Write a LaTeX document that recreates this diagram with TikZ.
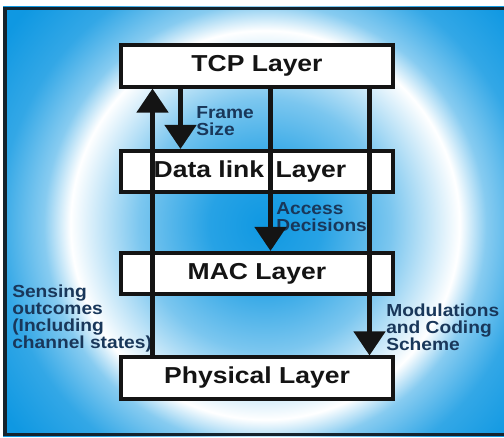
\documentclass[tikz,border=0pt]{standalone}
\usepackage{fontspec}
\newfontfamily\layerfont{Liberation Sans}[FakeStretch=1.15]
\newfontfamily\notefont{Liberation Sans}[FakeStretch=1.1]
\usetikzlibrary{arrows.meta,positioning}

\definecolor{skyblue}{RGB}{15,152,226}
\definecolor{labelnavy}{RGB}{25,55,90}
\definecolor{framedark}{RGB}{20,35,45}
\definecolor{inkdark}{RGB}{20,20,20}

\pgfdeclareradialshading{halo}{\pgfpoint{0bp}{0bp}}{color(0bp)=(skyblue); color(4bp)=(skyblue!90!white); color(9bp)=(skyblue!55!white); color(13.9bp)=(white); color(15.8bp)=(skyblue!50!white); color(19bp)=(skyblue!85!white); color(23bp)=(skyblue); color(50bp)=(skyblue)}

\tikzset{
  layer/.style={draw=inkdark, line width=2.8pt, fill=white, minimum width=6.8cm, minimum height=1.03cm, inner sep=0pt, text=inkdark, font=\layerfont\bfseries\fontsize{16.4}{19}\selectfont},
  flow/.style={draw=inkdark, line width=3pt, -{Triangle[width=0.78cm,length=0.6cm]}},
  note/.style={anchor=north west, inner sep=0pt, align=left, text=labelnavy, font=\notefont\bfseries\fontsize{12.4}{12}\selectfont}
}

\begin{document}
\begin{tikzpicture}[x=0.025cm, y=-0.025cm]
  \useasboundingbox (0,0) rectangle (504,438);
  \fill[white] (0,0) rectangle (504,438);
  % background glow
  \begin{scope}
    \clip (3,7) rectangle (504,436);
    \shade[shading=halo] (265,225) circle [radius=350];
  \end{scope}
  \draw[framedark, line width=2.8pt] (504,8.5) -- (5,8.5) -- (5,434.5) -- (504,434.5);

  % layers
  \node[layer] (tcp) at (257,66) {TCP Layer};
  \node[layer] (dlink) at (257,171.5) {Data link\hspace*{0.1cm} Layer\hspace*{0.35cm}};
  \node[layer] (mac) at (257,273.5) {MAC Layer};
  \node[layer] (phy) at (257,378) {Physical Layer};

  % labels
  \node[note] (fsize) at (196,106) {Frame\\Size};
  \node[note] (access) at (276,202) {Access\\Decisions};
  \node[note] (sense) at (12,285) {Sensing\\outcomes\\(Including\\channel states)};
  \node[note] (modcod) at (386,304) {Modulations\\and Coding\\Scheme};

  % arrows
  \coordinate (up) at (152.5,0);
  \coordinate (fs) at (180.5,0);
  \coordinate (ad) at (270.5,0);
  \coordinate (mc) at (369.5,0);
  \draw[flow] (phy.north -| up) -- (tcp.south -| up);
  \draw[flow] (tcp.south -| fs) -- (dlink.north -| fs);
  \draw[flow] (tcp.south -| ad) -- (mac.north -| ad);
  \draw[flow] (tcp.south -| mc) -- (phy.north -| mc);
\end{tikzpicture}
\end{document}
